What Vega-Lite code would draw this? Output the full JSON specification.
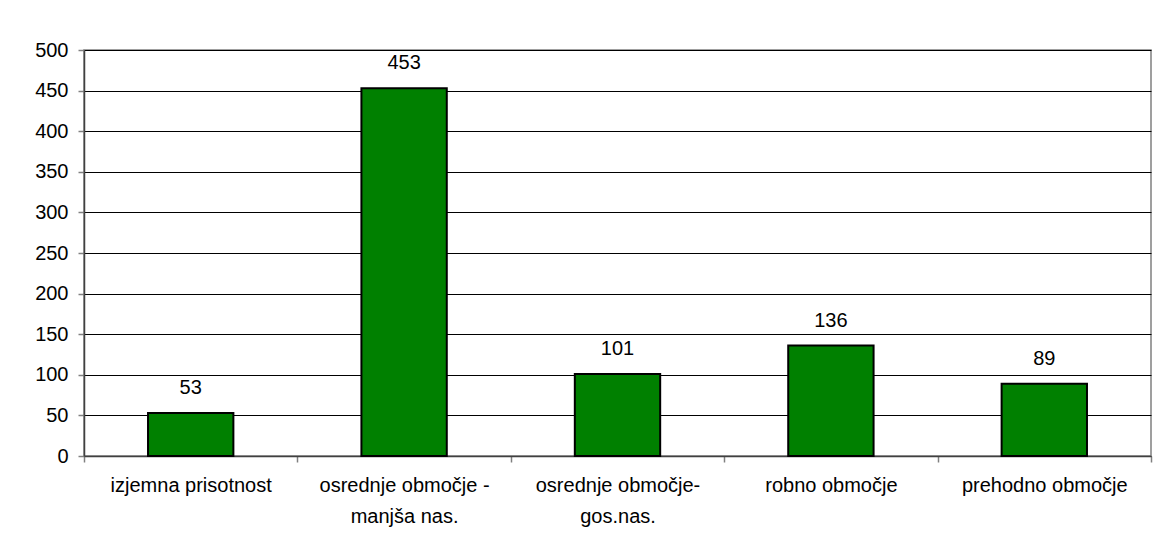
{
  "$schema": "https://vega.github.io/schema/vega-lite/v6.json",
  "width": 1067,
  "height": 406,
  "autosize": {"type": "none"},
  "padding": {"left": 84, "top": 50, "right": 7, "bottom": 96},
  "background": "#ffffff",
  "config": {
    "font": "Liberation Sans",
    "view": {"stroke": "#808080", "strokeWidth": 1.5}
  },
  "data": {
    "values": [
      {"kategorija": "izjemna prisotnost", "stevilo": 53},
      {"kategorija": "osrednje območje - manjša nas.", "stevilo": 453},
      {"kategorija": "osrednje območje-gos.nas.", "stevilo": 101},
      {"kategorija": "robno območje", "stevilo": 136},
      {"kategorija": "prehodno območje", "stevilo": 89}
    ]
  },
  "encoding": {
    "x": {
      "field": "kategorija",
      "type": "nominal",
      "sort": null,
      "scale": {"paddingInner": 0, "paddingOuter": 0},
      "axis": {
        "title": null,
        "labelAngle": 0,
        "labelFont": "Liberation Sans",
        "labelFontSize": 20,
        "labelColor": "#000000",
        "labelPadding": 13,
        "labelLineHeight": 31,
        "labelBaseline": "top",
        "labelLimit": 300,
        "tickBand": "extent",
        "tickSize": 6,
        "tickColor": "#808080",
        "tickWidth": 1.5,
        "domainColor": "#404040",
        "domainWidth": 1.5,
        "grid": false,
        "labelExpr": "datum.value ? split(replace(replace(datum.value, 'območje - ', 'območje -|'), 'območje-gos', 'območje-|gos'), '|') : ''"
      }
    },
    "y": {
      "field": "stevilo",
      "type": "quantitative",
      "scale": {"domain": [0, 500], "nice": false},
      "axis": {
        "title": null,
        "values": [0, 50, 100, 150, 200, 250, 300, 350, 400, 450, 500],
        "labelFont": "Liberation Sans",
        "labelFontSize": 20,
        "labelColor": "#000000",
        "labelPadding": 10,
        "tickSize": 6,
        "tickColor": "#808080",
        "tickWidth": 1.5,
        "domainColor": "#404040",
        "domainWidth": 1.5,
        "grid": true,
        "gridColor": "#000000",
        "gridWidth": 1.2
      }
    }
  },
  "layer": [
    {
      "mark": {"type": "bar", "width": {"band": 0.4}, "color": "#008000", "stroke": "#000000", "strokeWidth": 2}
    },
    {
      "mark": {"type": "text", "baseline": "bottom", "dy": -15, "fontSize": 20, "font": "Liberation Sans", "color": "#000000"},
      "encoding": {"text": {"field": "stevilo", "type": "quantitative"}}
    }
  ]
}
